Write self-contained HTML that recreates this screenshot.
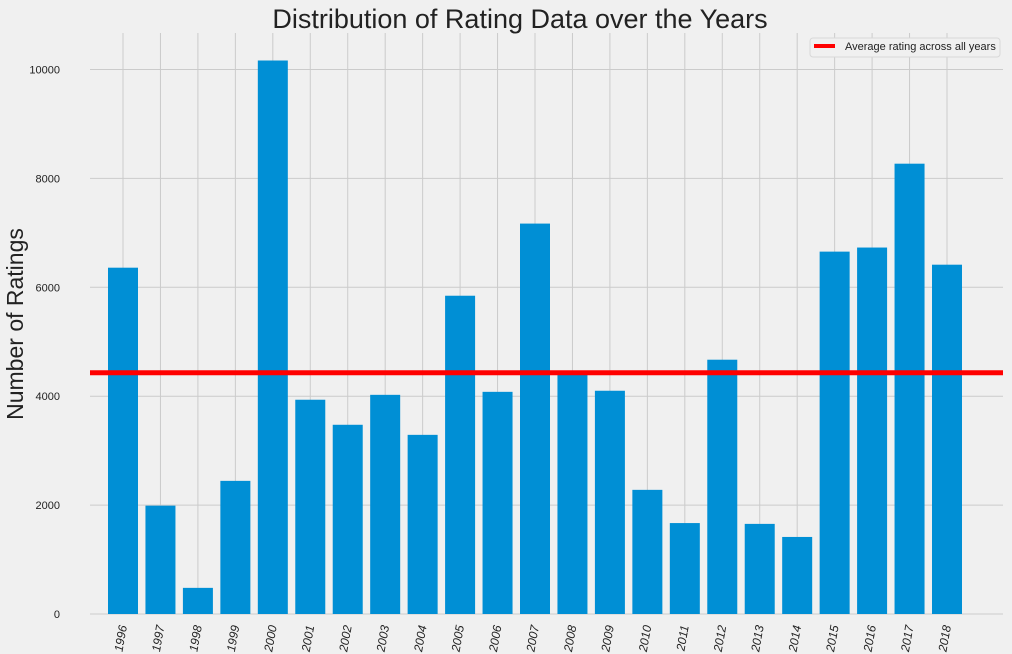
<!DOCTYPE html>
<html><head><meta charset="utf-8"><style>
body{margin:0;background:#f0f0f0;font-family:"Liberation Sans",sans-serif}
svg{display:block}
</style></head><body>
<svg id="c" width="1012" height="654" xmlns="http://www.w3.org/2000/svg">
<rect width="1012" height="654" fill="#f0f0f0"/>
<g id="grid"></g><g id="bars"></g><g id="ticks"></g>
<text x="520" y="28" text-anchor="middle" font-size="27" fill="#222">Distribution of Rating Data over the Years</text>
<text x="0" y="0" transform="translate(23,324) rotate(-90)" text-anchor="middle" font-size="23" fill="#222">Number of Ratings</text>
</svg>
<script>
const years=["1996","1997","1998","1999","2000","2001","2002","2003","2004","2005","2006","2007","2008","2009","2010","2011","2012","2013","2014","2015","2016","2017","2018"];
const ratings=[6360,1990,480,2445,10165,3935,3475,4025,3290,5845,4080,7170,4450,4100,2280,1670,4670,1655,1415,6655,6730,8270,6415];
const yTicks=[0,2000,4000,6000,8000,10000];
const average=[4430];
const NS="http://www.w3.org/2000/svg";
const svg=document.getElementById('c');
const X0=90,X1=1003,Y0=614,YT=33;
const xs=i=>123+i*(947-123)/22;
const ys=v=>Y0-v*(Y0-YT)/10670;
function mk(t,a,p){const e=document.createElementNS(NS,t);for(const k in a)e.setAttribute(k,a[k]);p.appendChild(e);return e;}
const grid=document.getElementById('grid'),bars=document.getElementById('bars'),ticks=document.getElementById('ticks');
yTicks.forEach(v=>{
 const l=mk('line',{x1:X0,x2:X1,y1:ys(v),y2:ys(v),stroke:'#cbcbcb','stroke-width':1},grid);
 
 
 const t=mk('text',{x:X0-30,y:ys(v)+4,'text-anchor':'end','font-size':11,fill:'#222'},ticks);
 t.textContent=v;
 
 
});
years.forEach((y,i)=>{
 const l=mk('line',{x1:xs(i),x2:xs(i),y1:YT,y2:Y0,stroke:'#cbcbcb','stroke-width':1},grid);
 
 
 const r=mk('rect',{x:xs(i)-15,y:ys(ratings[i]),width:30,height:Y0-ys(ratings[i]),fill:'#008fd5'},bars);
 
 
 const t=mk('text',{x:0,y:0,transform:`translate(${xs(i)+4},${Y0+12}) rotate(-80)`,'text-anchor':'end','font-size':12,'font-style':'italic',fill:'#222'},ticks);
 t.textContent=y;
 
 
});
const al=mk('line',{x1:X0,x2:X1,y1:ys(average[0]),y2:ys(average[0]),stroke:'#ff0000','stroke-width':5},svg);


const lg=mk('g',{},svg);


mk('rect',{x:810,y:38,width:190,height:19,rx:3,fill:'#f0f0f0',stroke:'#d8d8d8'},lg);
mk('line',{x1:814,x2:835,y1:46,y2:46,stroke:'#ff0000','stroke-width':4},lg);
const lt=mk('text',{x:845,y:50,'font-size':11,fill:'#222'},lg);
lt.textContent='Average rating across all years';


</script>
</body></html>
